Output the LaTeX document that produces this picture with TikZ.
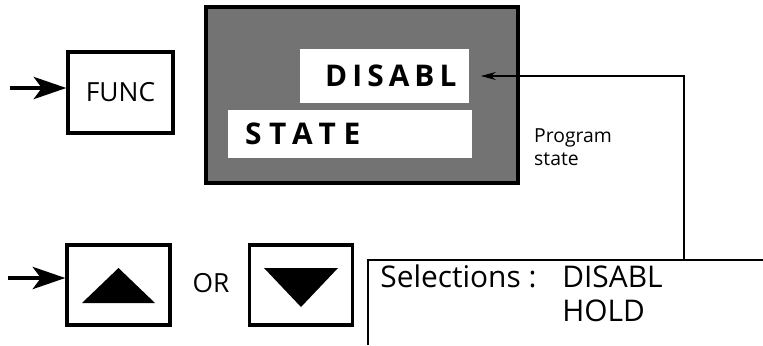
\documentclass[tikz,border=0pt]{standalone}
\usepackage{fontspec}
\setmainfont{Open Sans}
\usetikzlibrary{arrows.meta}

\begin{document}
\begin{tikzpicture}[x=0.02cm, y=-0.02cm,
      keybox/.style={draw, line width=1.9pt, minimum width=2.06cm, minimum height=1.6cm, inner sep=0pt},
      winbox/.style={fill=white, inner ysep=0pt, font=\fontsize{17}{18}\selectfont\bfseries\addfontfeature{LetterSpace=17}},
      push/.style={-{Stealth[length=6.5mm, width=4.4mm, inset=1.6mm]}, line width=2.6pt},
      feed/.style={-{Stealth[length=3mm, width=1.6mm]}, line width=1pt},
      big/.style={anchor=base west, inner sep=0pt, font=\fontsize{17}{18}\selectfont}]
  \useasboundingbox (0,0) rectangle (763,345);
  % display window
  \node[draw, line width=2.4pt, fill=black!55, minimum width=6.24cm, minimum height=3.52cm] (disp) at (362,95) {};
  \node[winbox, minimum width=3.4cm, minimum height=1.1cm, text width=2.88cm, inner xsep=0.26cm, align=right] (dis) at (384.5,76) {DISABL};
  \node[winbox, minimum width=4.88cm, minimum height=0.96cm, text width=4.2cm, inner xsep=0.34cm, align=left] (state) at (350,134) {\addfontfeature{LetterSpace=26}STATE};
  % keys
  \node[keybox, minimum width=2.1cm, minimum height=1.62cm, font=\fontsize{15}{16}\selectfont] (func) at (120.5,92.5) {FUNC};
  \node[keybox] (up) at (118.5,285) {};
  \node[keybox] (down) at (301,285) {};
  \node[font=\fontsize{15}{16}\selectfont] (or) at (211,283) {OR};
  \fill[shift={(up.center)}] (-36.5,18) -- (0,-17) -- (36.5,18) -- cycle;
  \fill[shift={(down.center)}] (-37,-17) -- (37,-17) -- (0,22) -- cycle;
  % key presses
  \coordinate (fin) at (10,88);
  \coordinate (kin) at (8,278);
  \draw[push] (fin) -- (fin -| func.west);
  \draw[push] (kin) -- (kin -| up.west);
  \node[anchor=west, align=left, font=\fontsize{11}{13}\selectfont] (note) at (528,147) {Program\\state};
  % selections panel
  \coordinate (selbl) at (368,345);
  \coordinate (seltr) at (763,260);
  \draw[line width=1.1pt] (selbl) |- (seltr);
  \node[big] (sel) at (380,287) {Selections :};
  \node[big] (opt1) at (562,287) {DISABL};
  \node[big] (opt2) at (562,321) {HOLD};
  \coordinate (fb) at (684,260);
  \draw[feed] (fb) |- ([xshift=0.22cm]dis.east);
\end{tikzpicture}
\end{document}
